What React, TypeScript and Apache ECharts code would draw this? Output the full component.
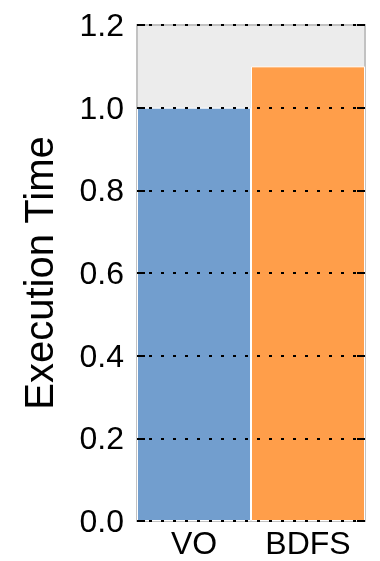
import React, { useEffect, useRef } from "react";
import * as echarts from "echarts";

const categories = ["VO", "BDFS"];
const values = [1.0, 1.1];
const barColors = ["#729ECE", "#FF9E4A"];
const yAxisTitle = "Execution Time";

export default function App() {
  const ref = useRef<HTMLDivElement>(null);
  useEffect(() => {
    if (!ref.current) return;
    const chart = echarts.init(ref.current, undefined, { renderer: "svg" });
    const font = "Liberation Sans";
    const split = {
      show: true,
      lineStyle: { color: "#000", width: 2, type: [3, 9] as any },
    };
    chart.setOption({
      animation: false,
      textStyle: { fontFamily: font },
      grid: {
        left: 137,
        top: 25,
        width: 228,
        height: 496,
        show: true,
        backgroundColor: "#ececec",
        borderColor: "#c2c2c2",
        borderWidth: 2,
      },
      xAxis: {
        type: "category",
        data: categories,
        axisLine: { show: false },
        axisTick: { show: false },
        axisLabel: { color: "#000", fontSize: 32, fontFamily: font, margin: 6 },
      },
      yAxis: [
        {
          type: "value",
          min: 0,
          max: 1.2,
          interval: 0.2,
          z: 5,
          name: yAxisTitle,
          nameLocation: "middle",
          nameGap: 78,
          nameTextStyle: { color: "#000", fontSize: 40, fontFamily: font },
          axisLine: { show: false },
          axisTick: { show: true, inside: true, length: 8, lineStyle: { color: "#000", width: 2 } },
          axisLabel: {
            color: "#000",
            fontSize: 32,
            fontFamily: font,
            margin: 13,
            formatter: (v: number) => v.toFixed(1),
          },
          splitLine: split,
        },
        {
          type: "value",
          min: 0,
          max: 1.2,
          interval: 0.2,
          z: 5,
          position: "right",
          axisLine: { show: false },
          axisTick: { show: true, inside: true, length: 8, lineStyle: { color: "#000", width: 2 } },
          axisLabel: { show: false },
          splitLine: { show: false },
        },
      ],
      series: [
        {
          type: "bar",
          data: values.map((v, i) => ({ value: v, itemStyle: { color: barColors[i] } })),
          barWidth: "100%",
          barCategoryGap: "0%",
          itemStyle: { borderColor: "#fff", borderWidth: 1 },
          z: 1,
        },
      ],
    });
    return () => chart.dispose();
  }, []);
  return (
    <div
      ref={ref}
      style={{ position: "fixed", left: 0, top: 0, width: 380, height: 561 }}
    />
  );
}
